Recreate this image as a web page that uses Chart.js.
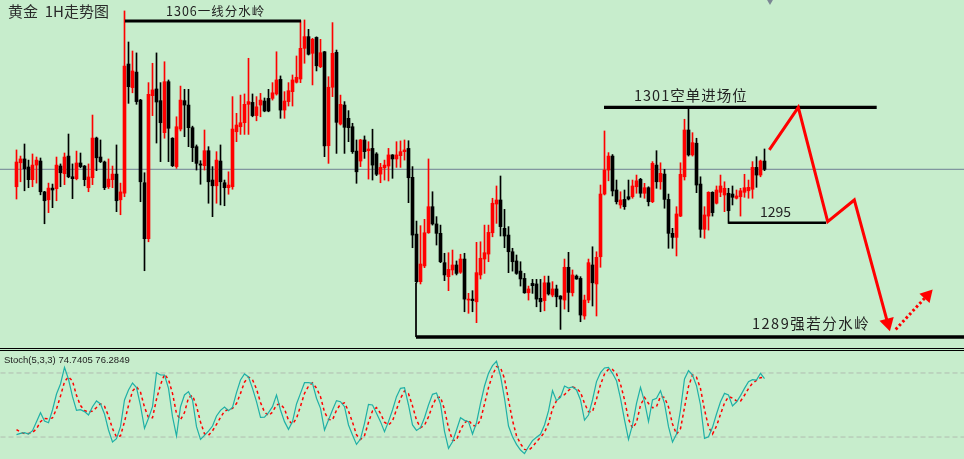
<!DOCTYPE html>
<html>
<head>
<meta charset="utf-8">
<title>黄金 1H走势图</title>
<script src="https://cdn.jsdelivr.net/npm/chart.js@4.4.1/dist/chart.umd.min.js"></script>
<style>
  html, body { margin: 0; padding: 0; background: #c7edcc; width: 964px; height: 459px; overflow: hidden; }
  #wrap { position: relative; width: 964px; height: 459px; }
  canvas { position: absolute; left: 0; }
  #price { top: 0; width: 964px; height: 348px; }
  #stoch { top: 351px; width: 964px; height: 108px; }
  .sep { position: absolute; left: 0; width: 964px; height: 1px; background: #000; }
  .lbl { position: absolute; white-space: pre; line-height: 1; color: #222;
         font-family: "Noto Sans CJK SC", "Noto Sans", sans-serif; }
</style>
</head>
<body>
<div id="wrap">
  <canvas id="price" width="964" height="348"></canvas>
  <div class="sep" style="top:348px"></div>
  <div class="sep" style="top:350px"></div>
  <canvas id="stoch" width="964" height="108"></canvas>

  <div class="lbl" style="left:8px;top:3px;font-size:15px;color:#2a2a2a">黄金  1H走势图</div>
  <div class="lbl" style="left:166px;top:5px;font-size:12.5px;letter-spacing:1px">1306一线分水岭</div>
  <div class="lbl" style="left:634px;top:88px;font-size:14.5px;letter-spacing:1px">1301空单进场位</div>
  <div class="lbl" style="left:760px;top:204px;font-size:14px">1295</div>
  <div class="lbl" style="left:752px;top:316px;font-size:14.5px;letter-spacing:1.5px">1289强若分水岭</div>
  <div class="lbl" style="left:4px;top:355px;font-size:9.5px;font-family:'Liberation Sans',Arial,sans-serif">Stoch(5,3,3) 74.7405 76.2849</div>
</div>

<script>
// 1H gold candles, oldest first
const opens = [
  1296.84,1298.09,1298.29,1297.87,1297.21,1297.97,1298.18,1296.57,1296.16,1296.77,
  1296.74,1297.92,1297.52,1298.44,1297.36,1297.26,1298.08,1297.92,1296.79,1297.31,
  1299.38,1298.39,1298.13,1296.84,1297.21,1297.50,1296.16,1296.50,1303.24,1302.01,
  1302.82,1301.36,1297.05,1294.13,1301.59,1301.94,1301.33,1299.66,1302.32,1299.37,
  1297.89,1299.85,1301.33,1301.10,1299.92,1298.93,1298.03,1297.94,1298.72,1297.19,
  1296.89,1298.18,1297.05,1296.79,1296.84,1299.71,1299.97,1300.18,1301.14,1301.24,
  1300.55,1301.10,1301.31,1301.45,1301.45,1301.68,1302.44,1300.84,1301.28,1301.80,
  1302.29,1302.46,1304.06,1304.67,1303.80,1304.63,1303.10,1303.88,1298.98,1302.03,
  1303.85,1300.11,1301.10,1300.41,1299.97,1298.70,1298.18,1299.28,1298.72,1298.84,
  1298.55,1297.50,1297.83,1297.92,1298.50,1298.29,1298.46,1298.67,1298.84,1297.33,
  1294.37,1291.89,1292.71,1294.44,1295.80,1294.90,1294.41,1292.88,1292.15,1292.50,
  1292.76,1292.38,1293.07,1290.93,1290.98,1290.84,1292.24,1293.07,1293.33,1294.44,
  1295.94,1296.15,1294.67,1294.32,1293.45,1292.97,1292.44,1292.06,1291.31,1291.80,
  1291.77,1291.02,1290.90,1291.83,1291.19,1291.51,1291.14,1290.93,1292.64,1291.31,
  1292.18,1292.06,1290.10,1290.93,1292.76,1291.77,1293.19,1296.46,1297.71,1298.44,
  1296.67,1295.89,1296.18,1296.32,1296.32,1296.84,1297.23,1296.50,1296.79,1296.06,
  1297.97,1297.10,1297.50,1296.18,1294.41,1294.20,1295.31,1297.36,1299.80,1298.50,
  1299.11,1296.98,1294.62,1295.31,1296.55,1295.98,1296.55,1296.41,1296.50,1296.46,
  1296.24,1296.32,1296.55,1296.63,1296.71,1297.85,1297.45,1298.18
];
const highs = [
  1298.76,1298.44,1299.07,1298.23,1298.55,1298.39,1298.34,1296.60,1297.03,1296.98,
  1298.39,1298.03,1298.60,1299.59,1298.03,1298.70,1298.60,1297.95,1298.03,1300.58,
  1299.43,1299.28,1298.18,1298.29,1297.92,1299.02,1297.03,1306.01,1304.39,1303.92,
  1303.82,1301.40,1297.57,1302.27,1303.28,1303.82,1302.27,1303.36,1302.41,1299.40,
  1300.49,1302.09,1301.92,1301.92,1300.00,1299.02,1298.20,1299.80,1298.93,1297.89,
  1298.67,1299.02,1297.19,1297.62,1301.54,1300.67,1301.62,1301.68,1303.54,1301.68,
  1301.54,1301.71,1301.47,1301.92,1302.27,1303.88,1302.62,1301.80,1302.27,1302.67,
  1303.66,1305.50,1305.54,1305.05,1304.58,1304.66,1304.53,1303.90,1302.58,1305.40,
  1303.97,1301.62,1301.28,1300.81,1300.15,1299.28,1299.31,1299.49,1299.19,1299.84,
  1298.62,1298.06,1298.23,1298.84,1298.52,1299.19,1299.23,1299.28,1299.24,1297.89,
  1295.05,1294.81,1295.14,1298.29,1296.58,1295.28,1294.84,1293.37,1293.40,1293.54,
  1292.97,1293.32,1293.37,1291.28,1291.42,1293.94,1293.97,1294.84,1294.84,1296.24,
  1296.88,1297.40,1295.66,1294.76,1293.63,1293.28,1292.93,1292.32,1291.66,1292.01,
  1292.01,1292.01,1292.18,1292.18,1291.89,1291.71,1291.16,1293.07,1293.42,1292.50,
  1292.24,1292.15,1291.19,1293.07,1293.71,1293.45,1296.93,1299.75,1298.62,1298.52,
  1297.19,1296.58,1296.67,1297.19,1297.19,1297.45,1297.28,1297.02,1296.84,1298.15,
  1298.72,1298.09,1297.75,1296.46,1294.67,1295.80,1298.09,1300.36,1300.93,1299.66,
  1299.37,1297.36,1295.80,1296.58,1296.58,1296.88,1297.45,1297.10,1296.76,1296.88,
  1296.67,1296.76,1297.49,1297.19,1298.15,1298.41,1298.23,1298.81
];
const lows = [
  1296.20,1297.10,1296.63,1296.79,1296.84,1297.03,1296.42,1294.91,1295.49,1295.75,
  1296.11,1296.84,1296.95,1297.31,1296.22,1297.20,1297.83,1296.89,1296.58,1296.95,
  1297.68,1298.10,1296.69,1296.75,1296.79,1295.54,1295.38,1296.32,1301.19,1301.74,
  1301.14,1296.06,1292.46,1293.97,1300.55,1299.12,1298.15,1299.37,1298.15,1297.89,
  1297.80,1299.75,1299.45,1298.93,1298.15,1297.71,1296.97,1297.71,1295.98,1295.28,
  1295.98,1295.89,1295.85,1296.45,1296.71,1299.19,1299.57,1299.57,1299.57,1300.49,
  1300.28,1300.49,1300.75,1300.75,1301.36,1301.62,1300.41,1300.41,1301.05,1301.05,
  1302.25,1302.27,1303.28,1303.71,1302.15,1302.88,1303.05,1298.41,1298.06,1301.54,
  1298.58,1300.06,1298.58,1299.19,1298.58,1297.02,1297.89,1298.32,1297.24,1297.19,
  1297.42,1297.05,1297.19,1297.14,1297.28,1297.85,1297.85,1298.23,1296.01,1293.66,
  1291.82,1291.77,1292.62,1294.41,1294.84,1293.80,1292.88,1291.94,1291.42,1292.24,
  1292.24,1292.32,1290.32,1290.24,1290.32,1289.75,1292.03,1292.32,1292.93,1294.23,
  1294.93,1294.27,1293.66,1292.36,1292.44,1292.27,1291.66,1291.28,1290.93,1291.28,
  1290.58,1290.32,1290.37,1291.19,1291.10,1290.58,1289.40,1290.46,1290.32,1291.14,
  1292.01,1289.80,1289.93,1290.79,1290.62,1290.10,1292.64,1296.41,1297.15,1296.36,
  1295.94,1295.72,1295.66,1296.15,1296.24,1296.50,1296.29,1296.24,1295.84,1296.01,
  1296.76,1296.71,1295.72,1293.63,1293.63,1293.23,1295.28,1297.19,1298.44,1298.44,
  1296.53,1294.20,1294.15,1294.58,1295.31,1295.94,1296.32,1295.54,1294.93,1295.89,
  1296.20,1295.31,1296.29,1296.24,1296.24,1296.81,1297.36,1297.68
];
const closes = [
  1298.13,1298.29,1297.78,1297.21,1297.97,1298.23,1296.58,1296.11,1296.77,1296.67,
  1297.97,1297.57,1298.39,1297.36,1297.26,1298.08,1297.89,1297.21,1297.35,1299.38,
  1298.35,1298.15,1296.79,1297.24,1297.50,1296.11,1296.57,1303.14,1302.06,1302.88,
  1301.28,1297.10,1294.13,1301.66,1301.89,1301.26,1300.18,1302.32,1299.89,1297.94,
  1299.97,1301.36,1301.10,1299.92,1298.88,1298.06,1297.97,1298.72,1297.10,1296.89,
  1298.23,1297.10,1296.79,1296.93,1299.85,1300.06,1300.18,1301.14,1301.28,1300.55,
  1301.01,1301.36,1300.79,1300.79,1301.74,1302.41,1300.84,1301.31,1301.85,1302.41,
  1302.55,1304.06,1304.67,1303.75,1304.53,1303.15,1303.83,1298.97,1302.03,1303.80,
  1300.20,1301.14,1299.94,1299.92,1298.67,1297.62,1299.28,1298.67,1298.81,1297.97,
  1297.49,1297.85,1297.97,1298.50,1298.29,1298.50,1298.67,1298.76,1297.31,1294.32,
  1291.89,1292.81,1294.44,1295.80,1294.90,1294.41,1292.93,1292.24,1292.53,1292.76,
  1292.32,1293.07,1290.98,1290.98,1290.90,1292.36,1293.11,1293.40,1294.46,1295.98,
  1296.15,1294.76,1294.27,1293.45,1292.93,1292.32,1292.03,1291.31,1291.51,1291.68,
  1290.98,1290.84,1291.83,1291.25,1291.51,1291.10,1290.98,1292.64,1291.33,1292.24,
  1292.03,1290.15,1290.93,1292.88,1291.83,1293.16,1296.46,1297.71,1298.44,1296.62,
  1296.06,1296.15,1295.80,1296.20,1296.88,1297.15,1296.50,1296.79,1296.06,1298.06,
  1297.10,1297.54,1296.18,1294.41,1294.20,1295.42,1297.49,1299.80,1298.50,1299.14,
  1296.93,1294.62,1295.37,1296.55,1295.49,1296.67,1296.88,1296.76,1295.59,1296.29,
  1296.36,1296.63,1296.79,1296.81,1297.85,1297.45,1298.18,1297.75
];

// Stoch(5,3,3): %K and %D
const stochK = [
  22.2,23.4,24.1,22.8,25.9,34.4,42.8,35.0,33.4,45.3,60.3,69.7,85.3,74.1,57.8,45.0,45.6,43.8,40.6,48.4,
  53.8,51.0,41.6,26.6,15.3,18.4,29.7,54.7,64.1,70.6,66.3,49.4,28.1,37.5,48.4,80.3,78.1,78.1,65.6,39.1,
  20.9,48.4,59.4,62.5,54.7,29.7,17.8,21.6,25.6,30.3,39.7,45.0,48.1,44.7,47.8,61.6,73.4,79.1,76.3,65.6,
  53.1,38.4,38.7,42.8,48.4,59.4,45.3,34.4,27.2,34.4,51.0,60.9,70.9,70.9,70.3,56.3,46.9,26.6,36.0,45.3,
  54.1,53.1,48.4,31.3,21.9,13.1,18.1,32.8,50.6,50.0,42.2,34.4,25.0,34.4,45.3,57.8,65.6,66.3,50.0,31.3,
  26.2,28.8,38.1,50.0,60.0,61.2,51.0,25.3,9.4,15.6,26.6,38.1,35.6,34.4,22.8,33.4,51.6,67.8,79.7,86.9,
  91.0,77.2,56.3,30.3,20.3,13.1,7.8,4.4,10.9,16.6,19.7,22.5,31.3,44.4,63.4,54.1,57.2,67.8,65.9,66.9,
  64.1,54.7,35.9,40.6,54.7,71.9,80.3,84.7,85.3,79.7,72.8,56.3,36.0,17.8,31.3,51.6,66.6,53.1,34.4,54.7,
  56.3,63.4,51.6,29.7,15.3,22.8,45.3,74.4,82.2,78.1,68.1,50.0,18.7,20.3,29.1,41.6,53.1,60.9,59.4,49.1,
  52.8,58.8,65.6,71.9,73.7,73.4,79.7,74.7
];
const stochD = [
  27.0,24.5,23.2,23.4,24.3,27.7,34.4,37.4,37.1,37.9,46.3,58.4,71.8,76.4,72.4,59.0,49.5,44.8,43.3,44.3,
  47.6,51.1,48.8,39.7,27.8,20.1,21.1,34.3,49.5,63.1,67.0,62.1,47.9,38.3,38.0,55.4,68.9,78.8,73.9,60.9,
  41.9,36.1,42.9,56.8,58.9,49.0,34.1,23.0,21.7,25.8,31.9,38.3,44.3,45.9,46.9,51.4,60.9,71.4,76.3,73.7,
  65.0,52.4,43.4,40.0,43.3,50.2,51.0,46.4,35.6,32.0,37.5,48.8,60.9,67.6,70.7,65.8,57.8,43.3,36.5,36.0,
  45.1,50.8,51.9,44.3,33.9,22.1,17.7,21.3,33.8,44.5,47.6,42.2,33.9,31.3,34.9,45.8,56.2,63.2,60.6,49.2,
  35.8,28.8,31.0,39.0,49.4,57.1,57.4,45.8,28.6,16.8,17.2,26.8,33.4,36.0,30.9,30.2,35.9,50.9,66.4,78.1,
  85.9,85.0,74.8,54.6,35.6,21.2,13.7,8.4,7.7,10.6,15.7,19.6,24.5,32.7,46.4,54.0,58.2,59.7,63.6,66.9,
  65.6,61.9,51.6,43.7,43.7,55.7,69.0,79.0,83.4,83.2,79.3,69.6,55.0,36.7,28.4,33.6,49.8,57.1,51.4,47.4,
  48.5,58.1,57.1,48.2,32.2,22.6,27.8,47.5,67.3,78.2,76.1,65.4,45.6,29.7,22.7,30.3,41.3,51.9,57.8,56.5,
  53.8,53.6,59.1,65.4,70.4,73.0,75.6,76.3
];
const stochLevels = [80, 20];

// hand-drawn key levels: price, first bar, last bar
const levelPrices = [1305.48, 1300.98, 1294.96, 1289.00];
const levelFrom = [27.125, 146.875, 177.95, 99.875];
const levelTo = [71.125, 215.05, 202.375, 240];

// forecast path (bar index, price) and the dotted rebound after it
const forecastX = [188.2, 195.45, 202.8, 209.45, 217.8];
const forecastY = [1298.76, 1300.98, 1295.02, 1296.15, 1289.73];
const reboundX = [219.8, 227.68];
const reboundY = [1289.40, 1291.17];

const bars = opens.map((_, i) => i);
const candleColors = bars.map(i => closes[i] >= opens[i] ? '#ff0000' : '#000000');
const lastPrice = closes[closes.length - 1];

const xScale = { type: 'linear', min: -4.125, max: 236.875, offset: false, display: false };
const common = {
  responsive: false,
  animation: false,
  events: [],
  layout: { padding: 0, autoPadding: false },
  plugins: { legend: { display: false }, tooltip: { enabled: false } }
};

function hLine(from, to, price, color, width, order, dash) {
  return {
    type: 'line',
    data: [{ x: from, y: price }, { x: to, y: price }],
    borderColor: color, borderWidth: width, borderDash: dash || [],
    pointRadius: 0, order: order
  };
}

const levelWidths = [3, 3.3, 2.5, 3.5];
const levelSets = levelPrices.map((p, k) =>
  hLine(levelFrom[k], levelTo[k], p, '#000000', levelWidths[k], 1));

new Chart(document.getElementById('price'), {
  type: 'bar',
  data: {
    datasets: [
      ...levelSets,
      {
        // short vertical stroke joining the low to the 1289 line
        type: 'line',
        data: [{ x: levelFrom[3], y: lows[100] }, { x: levelFrom[3], y: levelPrices[3] }],
        borderColor: '#000000', borderWidth: 1, pointRadius: 0, order: 1
      },
      {
        type: 'line',
        data: forecastX.map((x, k) => ({ x: x, y: forecastY[k] })),
        borderColor: '#ff0000', borderWidth: 3, borderJoinStyle: 'miter',
        pointStyle: 'triangle',
        pointRadius: forecastX.map((_, k) => k === forecastX.length - 1 ? 8.5 : 0),
        pointRotation: 165,
        pointBackgroundColor: '#ff0000', pointBorderColor: '#ff0000', pointBorderWidth: 0,
        order: 0
      },
      {
        type: 'line',
        data: reboundX.map((x, k) => ({ x: x, y: reboundY[k] })),
        borderColor: '#ff0000', borderWidth: 3, borderDash: [2.5, 2.5],
        pointStyle: 'triangle',
        pointRadius: [0, 8],
        pointRotation: 43,
        pointBackgroundColor: '#ff0000', pointBorderColor: '#ff0000', pointBorderWidth: 0,
        order: 0
      },
      {
        // current-bar marker at the top edge
        type: 'scatter',
        data: [{ x: 188.375, y: 1306.58 }],
        pointStyle: 'triangle', pointRotation: 180, pointRadius: 5,
        pointBackgroundColor: '#7b8794', pointBorderWidth: 0,
        order: 0
      },
      {
        label: 'wick',
        data: bars.map(i => ({ x: i, y: [lows[i], highs[i]] })),
        backgroundColor: candleColors,
        barThickness: 1, grouped: false, order: 5
      },
      {
        label: 'body',
        data: bars.map(i => ({ x: i, y: [opens[i], closes[i]] })),
        backgroundColor: candleColors,
        barThickness: 3, minBarLength: 1, grouped: false, order: 4
      },
      hLine(-10, 250, lastPrice, '#6f7f93', 1, 9)
    ]
  },
  options: {
    ...common,
    scales: {
      x: xScale,
      y: { type: 'linear', min: 1288.43, max: 1306.58, display: false }
    }
  }
});

new Chart(document.getElementById('stoch'), {
  type: 'line',
  data: {
    datasets: [
      {
        data: bars.map(i => ({ x: i, y: stochK[i] })),
        borderColor: '#1fb0a6', borderWidth: 1.2, pointRadius: 0, order: 1
      },
      {
        data: bars.map(i => ({ x: i, y: stochD[i] })),
        borderColor: '#ff0000', borderWidth: 1.5, borderDash: [3, 3], pointRadius: 0, order: 2
      },
      ...stochLevels.map(v => hLine(-10, 250, v, '#b0bcb0', 1, 3, [5, 3]))
    ]
  },
  options: {
    ...common,
    scales: {
      x: xScale,
      y: { type: 'linear', min: -0.6, max: 100.6, display: false }
    }
  }
});
</script>
</body>
</html>
